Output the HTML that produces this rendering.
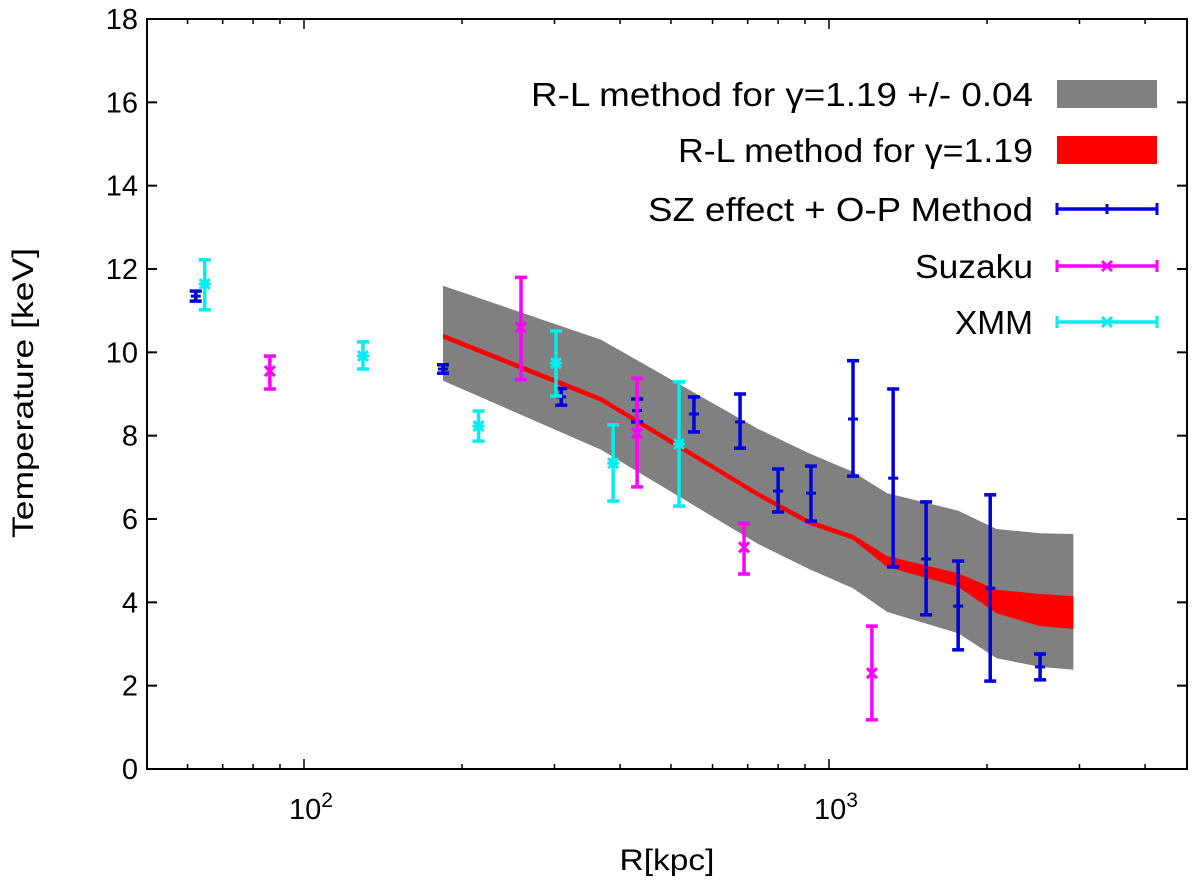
<!DOCTYPE html>
<html><head><meta charset="utf-8"><style>
html,body{margin:0;padding:0;background:#fff;}
svg text{font-family:"Liberation Sans",sans-serif;fill:#000;}
</style></head><body>
<svg id="chart" width="1200" height="883" xmlns="http://www.w3.org/2000/svg">
<g id="bands"></g>
<g id="points"></g>
<g id="axes"></g>
<g id="legend"></g>
</svg>
<script>
// Band data (R in kpc, T in keV)
const bandR = [184, 368, 733, 916, 1111, 1290, 1762, 2086, 2524, 2921];
const grayHi = [11.6, 10.3, 8.16, 7.58, 7.13, 6.62, 6.2, 5.76, 5.66, 5.64];
const grayLo = [9.32, 7.66, 5.4, 4.8, 4.34, 3.77, 3.26, 2.66, 2.45, 2.38];
const redHi = [10.45, 8.93, 6.65, 5.98, 5.62, 5.11, 4.7, 4.3, 4.2, 4.15];
const redLo = [10.33, 8.81, 6.53, 5.86, 5.5, 4.85, 4.37, 3.74, 3.43, 3.36];
// SZ + O-P
const szR = [62.2, 184, 309, 431, 553, 677, 800, 924, 1111, 1325, 1531, 1762, 2028, 2524];
const szT = [11.35, 9.6, 8.93, 8.6, 8.52, 8.33, 6.67, 6.62, 8.4, 6.98, 5.04, 3.91, 4.34, 2.45];
const szLo = [11.23, 9.5, 8.73, 8.33, 8.09, 7.7, 6.17, 5.95, 7.03, 4.85, 3.7, 2.86, 2.11, 2.14];
const szHi = [11.47, 9.7, 9.13, 8.88, 8.93, 9.0, 7.2, 7.27, 9.8, 9.12, 6.41, 4.99, 6.58, 2.76];
// Suzaku
const suR = [86.1, 259, 431, 689, 1207];
const suT = [9.55, 10.6, 8.06, 5.32, 2.3];
const suLo = [9.12, 9.35, 6.77, 4.68, 1.18];
const suHi = [9.91, 11.8, 9.38, 5.9, 3.43];
// XMM
const xmR = [64.7, 129.5, 215, 302, 388, 518];
const xmT = [11.64, 9.91, 8.23, 9.74, 7.34, 7.8];
const xmLo = [11.02, 9.6, 7.87, 8.95, 6.43, 6.31];
const xmHi = [12.22, 10.25, 8.59, 10.51, 8.26, 9.29];
const yTicks = [0,2,4,6,8,10,12,14,16,18];

const L=147,R=1187,T=19,B=769;
const NS="http://www.w3.org/2000/svg";
function X(r){return 304+(Math.log10(r)-2)*525;}
function Y(t){return B-(t/18)*(B-T);}
function mk(tag,attrs,parent){const e=document.createElementNS(NS,tag);for(const k in attrs)e.setAttribute(k,attrs[k]);parent.appendChild(e);return e;}
const gB=document.getElementById('bands'),gP=document.getElementById('points'),gA=document.getElementById('axes'),gL=document.getElementById('legend');

function band(hi,lo,fill,name){
  let d='M'+bandR.map((r,i)=>X(r).toFixed(1)+','+Y(hi[i]).toFixed(1)).join('L');
  for(let i=bandR.length-1;i>=0;i--)d+='L'+X(bandR[i]).toFixed(1)+','+Y(lo[i]).toFixed(1);
  const p=mk('path',{d:d+'Z',fill:fill},gB);
  
  
}
band(grayHi,grayLo,'#808080','gray-band');
band(redHi,redLo,'#ff0000','red-band');

function errs(Rs,Ts,Lo,Hi,col,kind,name){
  Rs.forEach((r,i)=>{
    const g=mk('g',{},gP);
    
    
    const x=X(r);
    mk('line',{x1:x,x2:x,y1:Y(Lo[i]),y2:Y(Hi[i]),stroke:col,'stroke-width':3.5},g);
    mk('line',{x1:x-6,x2:x+6,y1:Y(Lo[i]),y2:Y(Lo[i]),stroke:col,'stroke-width':3.5},g);
    mk('line',{x1:x-6,x2:x+6,y1:Y(Hi[i]),y2:Y(Hi[i]),stroke:col,'stroke-width':3.5},g);
    const y=Y(Ts[i]);
    if(kind==='+'){mk('line',{x1:x-5,x2:x+5,y1:y,y2:y,stroke:col,'stroke-width':3},g);}
    else{
      mk('line',{x1:x-5,x2:x+5,y1:y-5,y2:y+5,stroke:col,'stroke-width':3},g);
      mk('line',{x1:x-5,x2:x+5,y1:y+5,y2:y-5,stroke:col,'stroke-width':3},g);
      if(kind==='*')mk('line',{x1:x-6,x2:x+6,y1:y,y2:y,stroke:col,'stroke-width':3},g);
    }
  });
}
errs(szR,szT,szLo,szHi,'#0000dd','+','sz-point');
errs(suR,suT,suLo,suHi,'#ff00ff','x','suzaku-point');
errs(xmR,xmT,xmLo,xmHi,'#00eeee','*','xmm-point');

// axes frame
const fr=mk('rect',{x:L,y:T,width:R-L,height:B-T,fill:'none',stroke:'#000','stroke-width':2},gA);


yTicks.forEach(t=>{
  const y=Y(t);
  mk('line',{x1:L,x2:L+10,y1:y,y2:y,stroke:'#000','stroke-width':2},gA);
  mk('line',{x1:R,x2:R-10,y1:y,y2:y,stroke:'#000','stroke-width':2},gA);
  const tx=mk('text',{x:L-9,y:y+10,'text-anchor':'end','font-size':29},gA);
  tx.textContent=t;
  
  
});
for(let dec=10;dec<=1000;dec*=10){for(let m=1;m<=9;m++){
  const r=dec*m, x=X(r); if(x<L||x>R)continue;
  const len=(m===1)?10:5;
  mk('line',{x1:x,x2:x,y1:B,y2:B-len,stroke:'#000','stroke-width':1.5},gA);
  mk('line',{x1:x,x2:x,y1:T,y2:T+len,stroke:'#000','stroke-width':1.5},gA);
}}
[[100,'2'],[1000,'3']].forEach(([r,e])=>{
  const tx=mk('text',{x:X(r)+7,y:B+50,'text-anchor':'middle','font-size':29},gA);
  tx.innerHTML='10<tspan dy="-12" font-size="21">'+e+'</tspan>';
  
  
});
const xl=mk('text',{x:667,y:870,'text-anchor':'middle','font-size':30,textLength:95,lengthAdjust:'spacingAndGlyphs'},gA);xl.textContent='R[kpc]';


const yl=mk('text',{x:0,y:0,'text-anchor':'middle','font-size':30,textLength:290,lengthAdjust:'spacingAndGlyphs',transform:'translate(33,393) rotate(-90)'},gA);yl.textContent='Temperature [keV]';



// legend
const legText=['R-L method for \u03b3=1.19 +/- 0.04','R-L method for \u03b3=1.19','SZ effect + O-P Method','Suzaku','XMM'];
const legW=[502,355,385,118,78];
const legY=[94,150,209,266,322];
legText.forEach((s,i)=>{
  const g=mk('g',{},gL);
  
  
  const tx=mk('text',{x:1033,y:legY[i]+12,'text-anchor':'end','font-size':33,textLength:legW[i],lengthAdjust:'spacingAndGlyphs'},g);tx.textContent=s;
  const y=legY[i];
  if(i===0)mk('rect',{x:1057,y:y-14,width:100,height:28,fill:'#808080'},g);
  else if(i===1)mk('rect',{x:1057,y:y-14,width:100,height:28,fill:'#ff0000'},g);
  else{
    const col=['#0000dd','#ff00ff','#00eeee'][i-2];
    mk('line',{x1:1057,x2:1157,y1:y,y2:y,stroke:col,'stroke-width':3.5},g);
    mk('line',{x1:1057,x2:1057,y1:y-6,y2:y+6,stroke:col,'stroke-width':3},g);
    mk('line',{x1:1157,x2:1157,y1:y-6,y2:y+6,stroke:col,'stroke-width':3},g);
    const x=1107;
    if(i===2)mk('line',{x1:x,x2:x,y1:y-5,y2:y+5,stroke:col,'stroke-width':3},g);
    else{
      mk('line',{x1:x-5,x2:x+5,y1:y-5,y2:y+5,stroke:col,'stroke-width':3},g);
      mk('line',{x1:x-5,x2:x+5,y1:y+5,y2:y-5,stroke:col,'stroke-width':3},g);
    }
  }
});
</script>
</body></html>
